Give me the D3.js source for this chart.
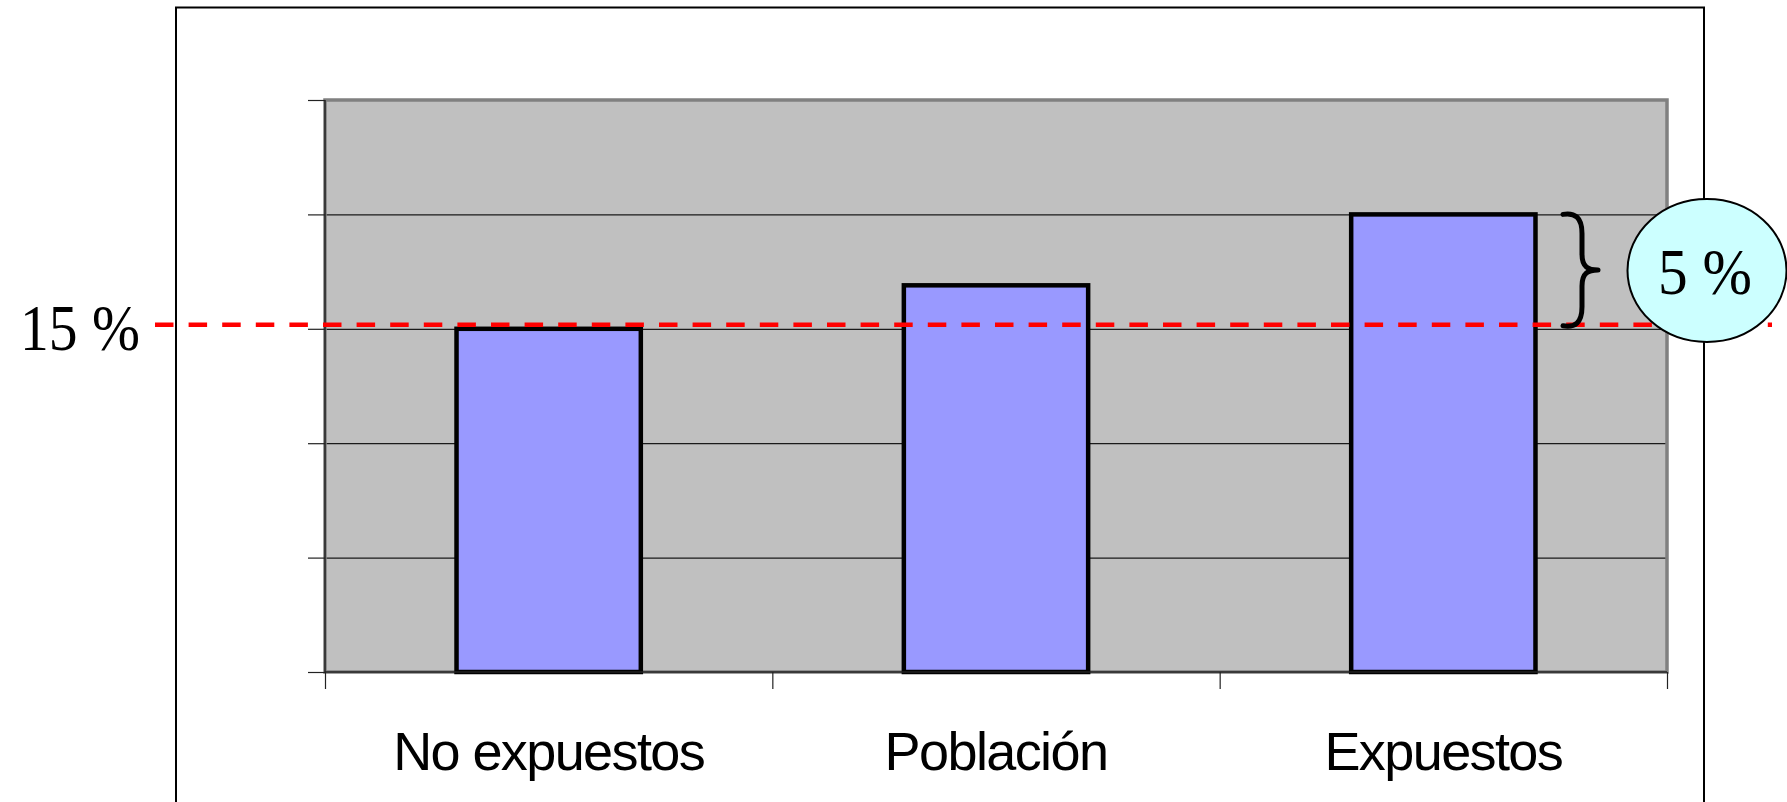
<!DOCTYPE html>
<html>
<head>
<meta charset="utf-8">
<script src="https://cdn.jsdelivr.net/npm/d3@7"></script>
<style>
  html, body { margin: 0; padding: 0; background: #ffffff; }
  svg { display: block; }
</style>
</head>
<body>
<svg id="chart" width="1787" height="802"></svg>
<script>
// ---- data ----
const categories = ["No expuestos", "Población", "Expuestos"];
const values = [15, 16.9, 20];
const yTicks = [0, 5, 10, 15, 20, 25];
const refValue = 15;
const refLabel = "15 %";
const diffLabel = "5 %";

// ---- layout ----
const plot = { left: 325, right: 1667, top: 100, bottom: 672 };
const svg = d3.select("#chart");

const x = d3.scaleBand()
  .domain(categories)
  .range([plot.left, plot.right])
  .paddingInner(0.588)
  .paddingOuter(0.294);
const xEdges = d3.scaleLinear().domain([0, categories.length]).range([plot.left, plot.right]);
const y = d3.scaleLinear().domain([0, 25]).range([plot.bottom, plot.top]);

// outer frame
svg.append("rect")
  .attr("x", 176).attr("y", 7.5)
  .attr("width", 1528).attr("height", 900)
  .attr("fill", "#ffffff").attr("stroke", "#000").attr("stroke-width", 2);

// plot background
svg.append("rect")
  .attr("x", plot.left).attr("y", plot.top)
  .attr("width", plot.right - plot.left).attr("height", plot.bottom - plot.top)
  .attr("fill", "#c0c0c0");

// gridlines
const grid = svg.append("g")
  .attr("transform", `translate(${plot.left},0)`)
  .call(d3.axisLeft(y).tickValues(yTicks).tickSize(-(plot.right - plot.left)).tickFormat(""));
grid.select(".domain").remove();
grid.selectAll(".tick line").attr("stroke", "#1a1a1a").attr("stroke-width", 1.2);

// plot border (gray)
svg.append("rect")
  .attr("x", plot.left).attr("y", plot.top)
  .attr("width", plot.right - plot.left).attr("height", plot.bottom - plot.top)
  .attr("fill", "none").attr("stroke", "#808080").attr("stroke-width", 3.5);

// bars
svg.append("g").selectAll("rect")
  .data(values)
  .join("rect")
  .attr("x", (d, i) => x(categories[i]))
  .attr("y", d => y(d))
  .attr("width", x.bandwidth())
  .attr("height", d => y(0) - y(d))
  .attr("fill", "#9999ff")
  .attr("stroke", "#000")
  .attr("stroke-width", 4.5);

// y axis
const yAxis = svg.append("g")
  .attr("transform", `translate(${plot.left},0)`)
  .call(d3.axisLeft(y).tickValues(yTicks).tickSize(17).tickFormat(""));
yAxis.select(".domain").attr("stroke", "#222").attr("stroke-width", 1.5).attr("d", `M0,${plot.top}V${plot.bottom}`);
yAxis.selectAll(".tick line").attr("stroke", "#222").attr("stroke-width", 1.2);

// x axis
const xAxis = svg.append("g")
  .attr("transform", `translate(0,${plot.bottom})`)
  .call(d3.axisBottom(xEdges).tickValues(d3.range(categories.length + 1)).tickSize(17).tickFormat(""));
xAxis.select(".domain").attr("stroke", "#222").attr("stroke-width", 1.5).attr("d", `M${plot.left},0H${plot.right}`);
xAxis.selectAll(".tick line").attr("stroke", "#222").attr("stroke-width", 1.2);

// category labels
svg.append("g").selectAll("text")
  .data(categories)
  .join("text")
  .attr("x", d => x(d) + x.bandwidth() / 2)
  .attr("y", 770)
  .attr("text-anchor", "middle")
  .attr("font-family", "Liberation Sans, Arial, sans-serif")
  .attr("font-size", 54)
  .attr("letter-spacing", -1.6)
  .attr("fill", "#000")
  .text(d => d);

// reference dashed line
const refY = y(refValue) - 4;
svg.append("line")
  .attr("x1", 155).attr("x2", 1772)
  .attr("y1", refY).attr("y2", refY)
  .attr("stroke", "#ff0000")
  .attr("stroke-width", 4.5)
  .attr("stroke-dasharray", "18.5,15.1");

// reference label
svg.append("text")
  .attr("x", 20).attr("y", 350)
  .attr("font-family", "Liberation Serif, Times New Roman, serif")
  .attr("font-size", 65)
  .attr("textLength", 120)
  .attr("lengthAdjust", "spacingAndGlyphs")
  .attr("fill", "#000")
  .text(refLabel);

// brace
const bTop = y(values[2]) - 1, bBot = refY + 2;
const bMid = (bTop + bBot) / 2;
const bx0 = 1563, bx1 = 1582, bx2 = 1598;
const braceD = `M${bx0},${bTop + 1} C${bx0 + 12},${bTop - 1} ${bx1},${bTop + 4} ${bx1},${bTop + 20}
  L${bx1},${bMid - 16} C${bx1},${bMid - 3} ${bx1 + 6},${bMid} ${bx2},${bMid}
  C${bx1 + 6},${bMid} ${bx1},${bMid + 3} ${bx1},${bMid + 16}
  L${bx1},${bBot - 20} C${bx1},${bBot - 4} ${bx0 + 12},${bBot + 1} ${bx0},${bBot - 1}`;
svg.append("path")
  .attr("d", braceD)
  .attr("fill", "none")
  .attr("stroke", "#000")
  .attr("stroke-width", 5)
  .attr("stroke-linecap", "round")
  .attr("stroke-linejoin", "round");

// bubble
svg.append("ellipse")
  .attr("cx", 1707).attr("cy", 270.5)
  .attr("rx", 79.5).attr("ry", 71.5)
  .attr("fill", "#ccffff")
  .attr("stroke", "#000")
  .attr("stroke-width", 2);
svg.append("text")
  .attr("x", 1658).attr("y", 294)
  .attr("font-family", "Liberation Serif, Times New Roman, serif")
  .attr("font-size", 65)
  .attr("textLength", 94)
  .attr("lengthAdjust", "spacingAndGlyphs")
  .attr("fill", "#000")
  .text(diffLabel);
</script>
</body>
</html>
